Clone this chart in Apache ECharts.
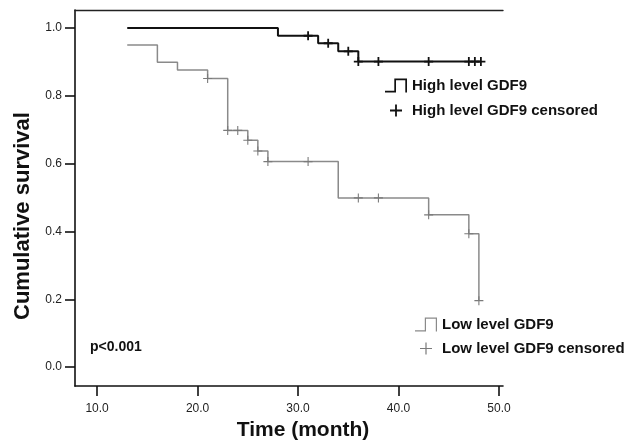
<!DOCTYPE html>
<html>
<head>
<meta charset="utf-8">
<script src="https://cdn.jsdelivr.net/npm/echarts@6/dist/echarts.min.js"></script>
<style>
html,body{margin:0;padding:0;background:#fff;}
#chart{width:637px;height:446px;}
</style>
</head>
<body>
<div id="chart"></div>
<script>
// ---- Data ----
var highTimes = [13, 28, 32, 34, 36, 48.2];
var highSurv  = [1.0, 0.977, 0.955, 0.931, 0.901, 0.901];
var highCensorTimes = [31, 33, 35, 36, 38, 43, 47, 47.6, 48.2];
var highCensorSurv  = [0.977, 0.955, 0.931, 0.901, 0.901, 0.901, 0.901, 0.901, 0.901];

var lowTimes = [13, 16, 18, 21, 23, 25, 26, 27, 34, 43, 47, 48];
var lowSurv  = [0.95, 0.899, 0.876, 0.851, 0.698, 0.669, 0.637, 0.606, 0.499, 0.449, 0.393, 0.196];
var lowCensorTimes = [21, 23, 24, 25, 26, 27, 31, 36, 38, 43, 47, 48];
var lowCensorSurv  = [0.851, 0.698, 0.698, 0.669, 0.637, 0.606, 0.606, 0.499, 0.499, 0.449, 0.393, 0.196];

var xTicks = [10, 20, 30, 40, 50];
var yTicks = [0, 0.2, 0.4, 0.6, 0.8, 1.0];

var seriesNames = ['High level GDF9', 'High level GDF9 censored', 'Low level GDF9', 'Low level GDF9 censored'];
var pValueText = 'p<0.001';
var xName = 'Time (month)';
var yName = 'Cumulative survival';

function pairs(xs, ys){ return xs.map(function(x,i){ return [x, ys[i]]; }); }

var FONT = 'Liberation Sans, Arial, sans-serif';
var plusThick = 'path://M4,0H6V4H10V6H6V10H4V6H0V4H4Z';
var plusThin  = 'path://M4.4,0H5.6V4.4H10V5.6H5.6V10H4.4V5.6H0V4.4H4.4Z';
var stepThick = 'path://M0,12.3H9.3V0H22V14H20.3V1.7H11V14H0Z';
var stepThin  = 'path://M0,12.8H9.8V0H22V14H20.8V1.2H11V14H0Z';
var plusLegThick = 'path://M0,0h0.01v0.01zM22,14h-0.01v-0.01zM10.1,1H11.9V6.1H17V7.9H11.9V13H10.1V7.9H5V6.1H10.1Z';
var plusLegThin  = 'path://M0,0h0.01v0.01zM22,14h-0.01v-0.01zM10.4,1H11.6V6.4H17V7.6H11.6V13H10.4V7.6H5V6.4H10.4Z';

var chart = echarts.init(document.getElementById('chart'), null, {renderer:'canvas'});
var option = {
  animation: false,
  backgroundColor: '#fff',
  grid: {left: 75, right: 134, top: 10, bottom: 58},
  legend: [
    {
      left: 385, top: 78, orient: 'vertical', itemWidth: 22, itemHeight: 14, itemGap: 10, padding: 0,
      selectedMode: false,
      textStyle: {fontSize: 15, fontWeight: 'bold', color: '#111', fontFamily: FONT},
      data: [
        {name: seriesNames[0], icon: stepThick},
        {name: seriesNames[1], icon: plusLegThick}
      ]
    },
    {
      left: 415, top: 317, orient: 'vertical', itemWidth: 22, itemHeight: 14, itemGap: 9, padding: 0,
      selectedMode: false,
      textStyle: {fontSize: 15, fontWeight: 'bold', color: '#111', fontFamily: FONT},
      data: [
        {name: seriesNames[2], icon: stepThin},
        {name: seriesNames[3], icon: plusLegThin}
      ]
    }
  ],
  xAxis: [
    {
      type: 'value', min: 7.8, max: 50.4, position: 'bottom',
      name: xName, nameLocation: 'middle', nameGap: 33,
      nameTextStyle: {fontSize: 21, fontWeight: 'bold', color: '#111', fontFamily: FONT, padding: [0,0,0,28]},
      axisLine: {show: true, onZero: false, lineStyle: {color: '#111', width: 1.6}},
      axisTick: {show: true, inside: false, length: 10, customValues: xTicks, lineStyle: {color: '#111', width: 1.6}},
      axisLabel: {show: true, margin: 17, customValues: xTicks, fontSize: 12, color: '#222', fontFamily: FONT,
        formatter: function(v){ return v.toFixed(1); }},
      splitLine: {show: false}
    },
    {
      type: 'value', min: 7.8, max: 50.4, position: 'top',
      axisLine: {show: true, onZero: false, lineStyle: {color: '#222', width: 1.4}},
      axisTick: {show: false}, axisLabel: {show: false}, splitLine: {show: false}
    }
  ],
  yAxis: {
    type: 'value', min: -0.056, max: 1.053,
    name: yName, nameLocation: 'middle', nameGap: 40, nameRotate: 90,
    nameTextStyle: {fontSize: 22, fontWeight: 'bold', color: '#111', fontFamily: FONT, padding: [0,36,0,0]},
    axisLine: {show: true, onZero: false, lineStyle: {color: '#111', width: 1.6}},
    axisTick: {show: true, inside: false, length: 10, customValues: yTicks, lineStyle: {color: '#111', width: 1.6}},
    axisLabel: {show: true, margin: 13, customValues: yTicks, fontSize: 12, color: '#222', fontFamily: FONT,
      formatter: function(v){ return v.toFixed(1); }},
    splitLine: {show: false}
  },
  graphic: [
    {type: 'text', left: 90, top: 340, style: {text: pValueText, font: 'bold 14px Liberation Sans, Arial, sans-serif', fill: '#111'}}
  ],
  series: [
    {
      name: seriesNames[0], type: 'line', step: 'end', showSymbol: false, symbol: 'none',
      data: pairs(highTimes, highSurv),
      lineStyle: {color: '#111', width: 2}, itemStyle: {color: '#111'}, z: 3
    },
    {
      name: seriesNames[1], type: 'scatter', symbol: plusThick, symbolSize: 9,
      data: pairs(highCensorTimes, highCensorSurv),
      itemStyle: {color: '#111', opacity: 1}, z: 4
    },
    {
      name: seriesNames[2], type: 'line', step: 'end', showSymbol: false, symbol: 'none',
      data: pairs(lowTimes, lowSurv),
      lineStyle: {color: '#8a8a8a', width: 1.5}, itemStyle: {color: '#8a8a8a'}, z: 2
    },
    {
      name: seriesNames[3], type: 'scatter', symbol: plusThin, symbolSize: 9,
      data: pairs(lowCensorTimes, lowCensorSurv),
      itemStyle: {color: '#7a7a7a', opacity: 1}, z: 4
    }
  ]
};
chart.setOption(option);
</script>
</body>
</html>
